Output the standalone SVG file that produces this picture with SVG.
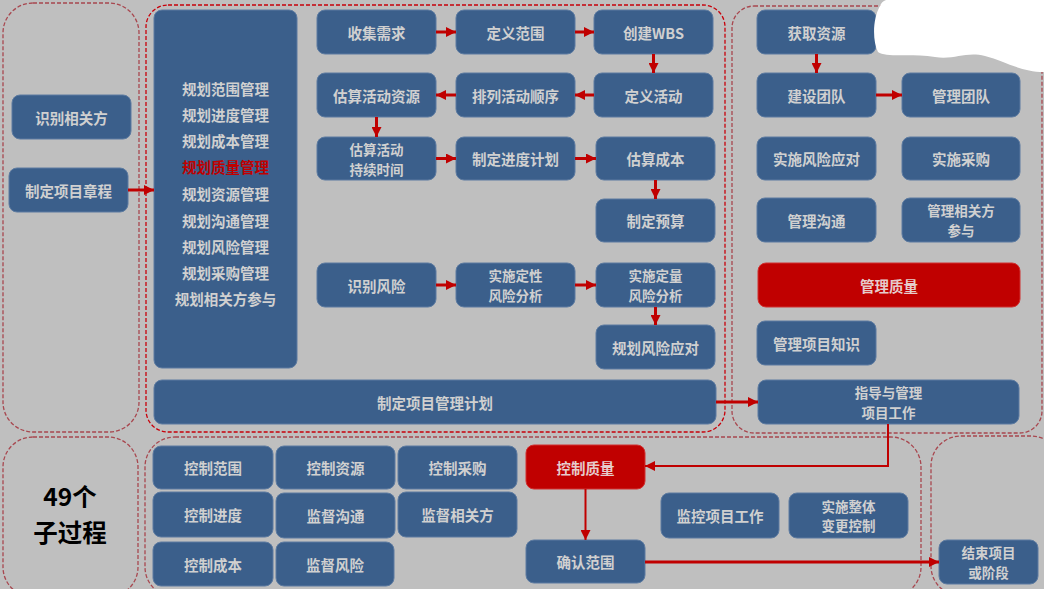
<svg xmlns="http://www.w3.org/2000/svg" width="1044" height="589" viewBox="0 0 1044 589">
<defs>
<style>
.bg{fill:#bfbfbf}
.grpB{fill:none;stroke:#a8474f;stroke-width:1.3;stroke-dasharray:4 2}
.grpR{fill:none;stroke:#c8000a;stroke-width:1.3;stroke-dasharray:4 2}
.n rect{fill:#3b5f8b;stroke:#5d7ba1;stroke-width:1}
.r rect{fill:#c00000;stroke:#d03030;stroke-width:1}
text{font-family:"Noto Sans CJK SC","Noto Sans",sans-serif;font-weight:bold;font-size:14.5px;text-anchor:middle;dominant-baseline:central;fill:#d0d0d0}
text.two{font-size:13.5px}
.r text{fill:#e6cccc}
.big{font-size:24.5px;fill:#000}
.hl{fill:#c00000}
.c{fill:none;stroke:#c00000;stroke-width:3}
.t{fill:none;stroke:#c00000;stroke-width:2}
</style>
<marker id="ah" markerUnits="userSpaceOnUse" markerWidth="10" markerHeight="10" refX="10" refY="5" orient="auto"><path d="M0,0 L10,5 L0,10 z" fill="#c00000"/></marker>
</defs>
<rect class="bg" x="0" y="0" width="1044" height="589"/>
<g id="groups">
<rect class="grpB" x="3" y="3" width="136" height="429" rx="30"/>
<rect class="grpR" x="146" y="5" width="579" height="427" rx="22"/>
<rect class="grpB" x="732" y="6" width="310" height="427" rx="22"/>
<rect class="grpB" x="3" y="437" width="135" height="160" rx="30"/>
<rect class="grpB" x="145" y="437" width="776" height="160" rx="30"/>
<rect class="grpB" x="931" y="436" width="130" height="160" rx="30"/>
</g>
<g id="n-shibie" class="n"><rect x="12" y="95" width="119" height="44" rx="8"/><text x="71.5" y="117">识别相关方</text></g>
<g id="n-zhangcheng" class="n"><rect x="9" y="168" width="119" height="44" rx="8"/><text x="68.5" y="190">制定项目章程</text></g>
<g id="n-guihua" class="n"><rect x="154" y="10" width="143" height="358" rx="8"/>
<text x="225.5" y="88">规划范围管理<tspan x="225.5" dy="26">规划进度管理</tspan><tspan x="225.5" dy="26">规划成本管理</tspan><tspan x="225.5" dy="26" class="hl">规划质量管理</tspan><tspan x="225.5" dy="27">规划资源管理</tspan><tspan x="225.5" dy="27">规划沟通管理</tspan><tspan x="225.5" dy="26">规划风险管理</tspan><tspan x="225.5" dy="26">规划采购管理</tspan><tspan x="225.5" dy="26">规划相关方参与</tspan></text></g>
<g id="n-shouji" class="n"><rect x="317" y="10" width="119" height="44" rx="8"/><text x="376.5" y="32">收集需求</text></g>
<g id="n-dingyifanwei" class="n"><rect x="456" y="10" width="119" height="44" rx="8"/><text x="515.5" y="32">定义范围</text></g>
<g id="n-wbs" class="n"><rect x="594" y="10" width="119" height="44" rx="8"/><text x="653.5" y="32">创建WBS</text></g>
<g id="n-ziyuan" class="n"><rect x="317" y="73" width="119" height="44" rx="8"/><text x="376.5" y="95">估算活动资源</text></g>
<g id="n-shunxu" class="n"><rect x="456" y="73" width="119" height="44" rx="8"/><text x="515.5" y="95">排列活动顺序</text></g>
<g id="n-huodong" class="n"><rect x="594" y="73" width="119" height="44" rx="8"/><text x="653.5" y="95">定义活动</text></g>
<g id="n-chixu" class="n"><rect x="317" y="137" width="119" height="43" rx="8"/><text class="two" x="376.5" y="148.7">估算活动<tspan x="376.5" dy="19.8">持续时间</tspan></text></g>
<g id="n-jindu" class="n"><rect x="456" y="137" width="119" height="43" rx="8"/><text x="515.5" y="158.5">制定进度计划</text></g>
<g id="n-chengben" class="n"><rect x="596" y="137" width="119" height="43" rx="8"/><text x="655.5" y="158.5">估算成本</text></g>
<g id="n-yusuan" class="n"><rect x="596" y="199" width="119" height="43" rx="8"/><text x="655.5" y="220.5">制定预算</text></g>
<g id="n-fengxian" class="n"><rect x="317" y="263" width="119" height="44" rx="8"/><text x="376.5" y="285">识别风险</text></g>
<g id="n-dingxing" class="n"><rect x="456" y="263" width="119" height="44" rx="8"/><text class="two" x="515.5" y="275.1">实施定性<tspan x="515.5" dy="19.8">风险分析</tspan></text></g>
<g id="n-dingliang" class="n"><rect x="596" y="263" width="119" height="44" rx="8"/><text class="two" x="655.5" y="275.1">实施定量<tspan x="655.5" dy="19.8">风险分析</tspan></text></g>
<g id="n-yingdui" class="n"><rect x="596" y="325" width="119" height="44" rx="8"/><text x="655.5" y="347">规划风险应对</text></g>
<g id="n-jihua" class="n"><rect x="154" y="380" width="562" height="44" rx="8"/><text x="435" y="402">制定项目管理计划</text></g>
<g id="n-huoqu" class="n"><rect x="757" y="10" width="119" height="44" rx="8"/><text x="816.5" y="32">获取资源</text></g>
<g id="n-jianshe" class="n"><rect x="757" y="73" width="119" height="44" rx="8"/><text x="816.5" y="95">建设团队</text></g>
<g id="n-guanlituandui" class="n"><rect x="902" y="73" width="118" height="44" rx="8"/><text x="961" y="95">管理团队</text></g>
<g id="n-shishifengxian" class="n"><rect x="757" y="137" width="119" height="43" rx="8"/><text x="816.5" y="158.5">实施风险应对</text></g>
<g id="n-caigou" class="n"><rect x="902" y="137" width="118" height="43" rx="8"/><text x="961" y="158.5">实施采购</text></g>
<g id="n-goutong" class="n"><rect x="757" y="198" width="119" height="44" rx="8"/><text x="816.5" y="220">管理沟通</text></g>
<g id="n-xiangguanfang" class="n"><rect x="902" y="198" width="118" height="44" rx="8"/><text class="two" x="961" y="210.1">管理相关方<tspan x="961" dy="19.8">参与</tspan></text></g>
<g id="n-guanlizhiliang" class="r"><rect x="758" y="263" width="262" height="44" rx="8"/><text x="889" y="285">管理质量</text></g>
<g id="n-zhishi" class="n"><rect x="757" y="321" width="119" height="44" rx="8"/><text x="816.5" y="343">管理项目知识</text></g>
<g id="n-zhidao" class="n"><rect x="758" y="380" width="261" height="44" rx="8"/><text class="two" x="888.5" y="392.1">指导与管理<tspan x="888.5" dy="19.8">项目工作</tspan></text></g>
<g id="n-49"><text class="big" x="70" y="495">49个<tspan x="70" dy="36">子过程</tspan></text></g>
<g id="n-kzfanwei" class="n"><rect x="153" y="446" width="120" height="43" rx="8"/><text x="213" y="467.5">控制范围</text></g>
<g id="n-kzziyuan" class="n"><rect x="276" y="446" width="119" height="43" rx="8"/><text x="335.5" y="467.5">控制资源</text></g>
<g id="n-kzcaigou" class="n"><rect x="398" y="446" width="119" height="43" rx="8"/><text x="457.5" y="467.5">控制采购</text></g>
<g id="n-kzjindu" class="n"><rect x="153" y="492" width="120" height="45" rx="8"/><text x="213" y="514.5">控制进度</text></g>
<g id="n-jdgoutong" class="n"><rect x="276" y="493" width="119" height="45" rx="8"/><text x="335.5" y="515.5">监督沟通</text></g>
<g id="n-jdxiangguan" class="n"><rect x="398" y="492" width="119" height="45" rx="8"/><text x="457.5" y="514.5">监督相关方</text></g>
<g id="n-kzchengben" class="n"><rect x="153" y="542" width="120" height="44" rx="8"/><text x="213" y="564">控制成本</text></g>
<g id="n-jdfengxian" class="n"><rect x="276" y="542" width="118" height="44" rx="8"/><text x="335" y="564">监督风险</text></g>
<g id="n-kzzhiliang" class="r"><rect x="526" y="445" width="119" height="44" rx="8"/><text x="585.5" y="467">控制质量</text></g>
<g id="n-queren" class="n"><rect x="526" y="540" width="119" height="43" rx="8"/><text x="585.5" y="561.5">确认范围</text></g>
<g id="n-jiankong" class="n"><rect x="661" y="493" width="118" height="45" rx="8"/><text x="720" y="515.5">监控项目工作</text></g>
<g id="n-biangeng" class="n"><rect x="789" y="493" width="119" height="45" rx="8"/><text class="two" x="848.5" y="505.6">实施整体<tspan x="848.5" dy="19.8">变更控制</tspan></text></g>
<g id="n-jieshu" class="n"><rect x="939" y="540" width="99" height="44" rx="8"/><text class="two" x="988.5" y="552.1">结束项目<tspan x="988.5" dy="19.8">或阶段</tspan></text></g>
<g id="connectors">
<path class="c" marker-end="url(#ah)" d="M128,190 H154"/>
<path class="c" marker-end="url(#ah)" d="M436,32 H456"/>
<path class="c" marker-end="url(#ah)" d="M575,32 H594"/>
<path class="c" marker-end="url(#ah)" d="M653.5,54 V73"/>
<path class="c" marker-end="url(#ah)" d="M594,95 H575"/>
<path class="c" marker-end="url(#ah)" d="M456,95 H436"/>
<path class="c" marker-end="url(#ah)" d="M376.5,117 V137"/>
<path class="c" marker-end="url(#ah)" d="M436,158.5 H456"/>
<path class="c" marker-end="url(#ah)" d="M575,158.5 H596"/>
<path class="c" marker-end="url(#ah)" d="M655.5,180 V199"/>
<path class="c" marker-end="url(#ah)" d="M436,285 H456"/>
<path class="c" marker-end="url(#ah)" d="M575,285 H596"/>
<path class="c" marker-end="url(#ah)" d="M655.5,307 V325"/>
<path class="c" marker-end="url(#ah)" d="M816.5,54 V73"/>
<path class="c" marker-end="url(#ah)" d="M876,95 H902"/>
<path class="c" marker-end="url(#ah)" d="M716,402 H758"/>
<path class="t" marker-end="url(#ah)" d="M888,424 V466 H645"/>
<path class="t" marker-end="url(#ah)" d="M585.5,489 V540"/>
<path class="c" marker-end="url(#ah)" d="M645,562 H939"/>
</g>
<path id="blob" d="M880,6 C873,18 872,40 878,52 C886,58 910,53 935,57 C955,60 966,51 985,56 C1005,61 1020,72 1044,72 L1044,0 L886,0 C883,1 881,3 880,6 Z" fill="#ffffff"/>
</svg>
